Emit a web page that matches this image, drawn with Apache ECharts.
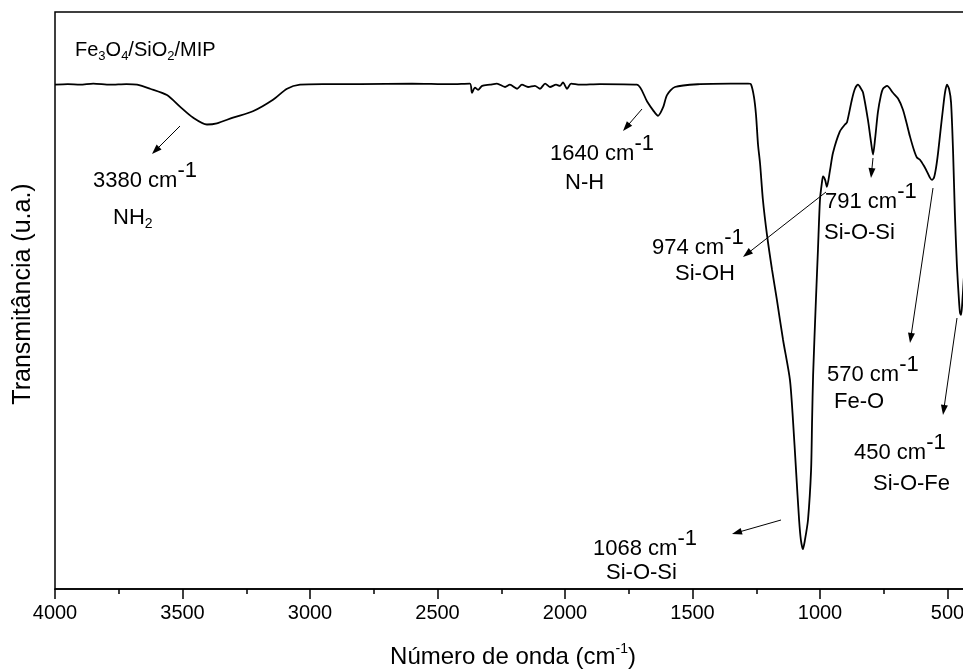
<!DOCTYPE html>
<html><head><meta charset="utf-8">
<script src="https://cdn.jsdelivr.net/npm/echarts@6/dist/echarts.min.js"></script>
<style>html,body{margin:0;padding:0;background:#fff}#c{width:963px;height:671px}</style>
</head><body><div id="c"></div>
<script>
// ---- data ----
const wavenumber = [4000,3950,3902,3850,3784,3720,3678,3627,3561,3510,3459,3404,3365,3302,3224,3145,3090,3039,2950,2804,2600,2450,2373,2365,2353,2341,2325,2294,2267,2235,2216,2188,2169,2145,2118,2098,2078,2059,2035,2020,2008,1992,1976,1941,1863,1718,1678,1655,1635,1615,1600,1569,1471,1350,1282,1271,1259,1251,1243,1235,1224,1208,1188,1169,1145,1118,1106,1094,1082,1075,1067,1059,1047,1035,1031,1027,1016,1008,1000,992,988,980,973,961,949,922,902,894,875,863,851,839,831,812,800,792,784,773,761,753,737,714,694,675,659,647,631,620,608,592,580,569,561,553,545,537,526,518,510,502,494,486,478,471,463,455,451,447,443,435,428];
const transmittance = [87.4,87.5,87.4,87.6,87.4,87.5,87.4,86.7,85.6,83.6,81.7,80.5,80.7,81.7,82.8,84.8,86.7,87.4,87.5,87.5,87.6,87.5,87.6,86.0,86.9,86.5,87.2,87.4,87.6,87.0,87.4,86.7,87.4,87.0,87.2,86.7,87.6,87.0,87.4,87.2,87.8,86.7,87.6,87.4,87.5,87.4,84.5,83.0,82.0,83.5,85.6,87.0,87.5,87.6,87.6,87.5,85.3,82.2,77.0,73.7,67.5,61.4,55.3,50.1,43.2,36.3,29.3,20.6,12.0,8.5,6.9,8.5,12.0,20.6,29.3,37.1,50.1,58.8,67.5,70.6,71.5,70.9,69.7,72.5,75.6,79.3,80.5,80.9,84.8,86.7,87.4,86.7,86.0,81.3,77.5,75.3,78.0,82.6,85.6,86.7,87.2,86.0,85.0,83.1,80.5,78.4,76.0,74.8,74.4,73.3,72.3,71.3,70.9,71.3,73.0,75.6,80.0,83.1,86.0,87.4,86.7,84.3,75.6,65.0,56.0,50.0,47.9,47.5,49.0,54.5,60.0];
const sampleName = ['Fe','3','O','4','/SiO','2','/MIP'];
const peakPositions = ['3380','1640','974','791','570','450','1068'];
const peakGroups = ['NH','N-H','Si-OH','Si-O-Si','Fe-O','Si-O-Fe','Si-O-Si'];
const xTitle = 'Número de onda (cm';
const yTitle = 'Transmitância (u.a.)';

const FONT = '"Liberation Sans", Arial, Helvetica, sans-serif';
const ctx = document.createElement('canvas').getContext('2d');
function tw(t, s){ ctx.font = s + 'px ' + FONT; return ctx.measureText(t).width; }
function txt(x, y, t, s, extra){
  return Object.assign({type:'text', x:x, y:y, z:100,
    style:{text:t, fontSize:s, fontFamily:FONT, fill:'#000', align:'left', verticalAlign:'middle'}}, extra||{});
}
function seg(x, y, parts){
  const out=[];
  for (const p of parts){ out.push(txt(x, y + p[2], p[0], p[1])); x += tw(p[0], p[1]); }
  return out;
}
function segCenter(cx, y, parts){
  let w = 0; for (const p of parts) w += tw(p[0], p[1]);
  return seg(cx - w/2, y, parts);
}
function arrow(x1,y1,x2,y2){
  const dx=x2-x1, dy=y2-y1, L=Math.hypot(dx,dy), ux=dx/L, uy=dy/L, nx=-uy, ny=ux;
  const hl=10, hw=3.5;
  const bx=x2-ux*hl, by=y2-uy*hl;
  return [
    {type:'line', z:100, shape:{x1:x1,y1:y1,x2:bx+ux*2,y2:by+uy*2}, style:{stroke:'#000', lineWidth:1}},
    {type:'polygon', z:100, shape:{points:[[x2,y2],[bx+nx*hw,by+ny*hw],[bx-nx*hw,by-ny*hw]]}, style:{fill:'#000'}}
  ];
}
function peak(x, y, i){ return seg(x, y, [[peakPositions[i] + ' cm', 22, 0], ['-1', 22, -10]]); }

let g = [];
g = g.concat(seg(75, 50, [[sampleName[0],20,0],[sampleName[1],13,6],[sampleName[2],20,0],[sampleName[3],13,6],[sampleName[4],20,0],[sampleName[5],13,6],[sampleName[6],20,0]]));
g = g.concat(peak(93,181,0), seg(113,218,[[peakGroups[0],22,0],['2',14,6]]), arrow(180,126,152,154));
g = g.concat(peak(550,154,1), seg(565,183,[[peakGroups[1],22,0]]), arrow(642,109,623,131));
g = g.concat(peak(652,248,2), seg(675,274,[[peakGroups[2],22,0]]), arrow(826,192,743,257));
g = g.concat(peak(825,202,3), seg(824,233,[[peakGroups[3],22,0]]), arrow(873,158,871,178));
g = g.concat(peak(827,375,4), seg(834,402,[[peakGroups[4],22,0]]), arrow(933,188,910,343));
g = g.concat(peak(854,453,5), seg(873,484,[[peakGroups[5],22,0]]), arrow(957,318,943,415));
g = g.concat(peak(593,549,6), seg(606,573,[[peakGroups[6],22,0]]), arrow(781,520,732,534));
g = g.concat(segCenter(513, 657, [[xTitle,24,0],['-1',14,-8],[')',24,0]]));
g.push(txt(23, 294, yTitle, 25, {rotation: Math.PI/2}));
g[g.length-1].style.align = 'center';

const chart = echarts.init(document.getElementById('c'), null, {renderer:'canvas'});
chart.setOption({
  animation:false,
  backgroundColor:'#fff',
  grid:{left:55, top:12, width:1020, height:577, outerBoundsMode:'none', containLabel:false,
    show:true, borderColor:'#000', borderWidth:1.5, backgroundColor:'transparent'},
  xAxis:{type:'value', min:0, max:4000, interval:500, inverse:true,
    axisLine:{show:true, lineStyle:{color:'#000', width:1.5}},
    axisTick:{show:true, inside:false, length:10, lineStyle:{color:'#000', width:1.5}},
    minorTick:{show:true, splitNumber:2, length:5, lineStyle:{color:'#000', width:1.5}},
    axisLabel:{color:'#000', fontSize:20, fontFamily:FONT, margin:14, formatter:function(v){return String(v);}},
    splitLine:{show:false}},
  yAxis:{type:'value', min:0, max:100, axisLine:{show:false}, axisTick:{show:false}, axisLabel:{show:false}, splitLine:{show:false}},
  series:[{type:'line', data: wavenumber.map((w,i)=>[w, transmittance[i]]), showSymbol:false, smooth:0.25,
    lineStyle:{color:'#000', width:1.8}, clip:true}],
  graphic: g
});
</script></body></html>
